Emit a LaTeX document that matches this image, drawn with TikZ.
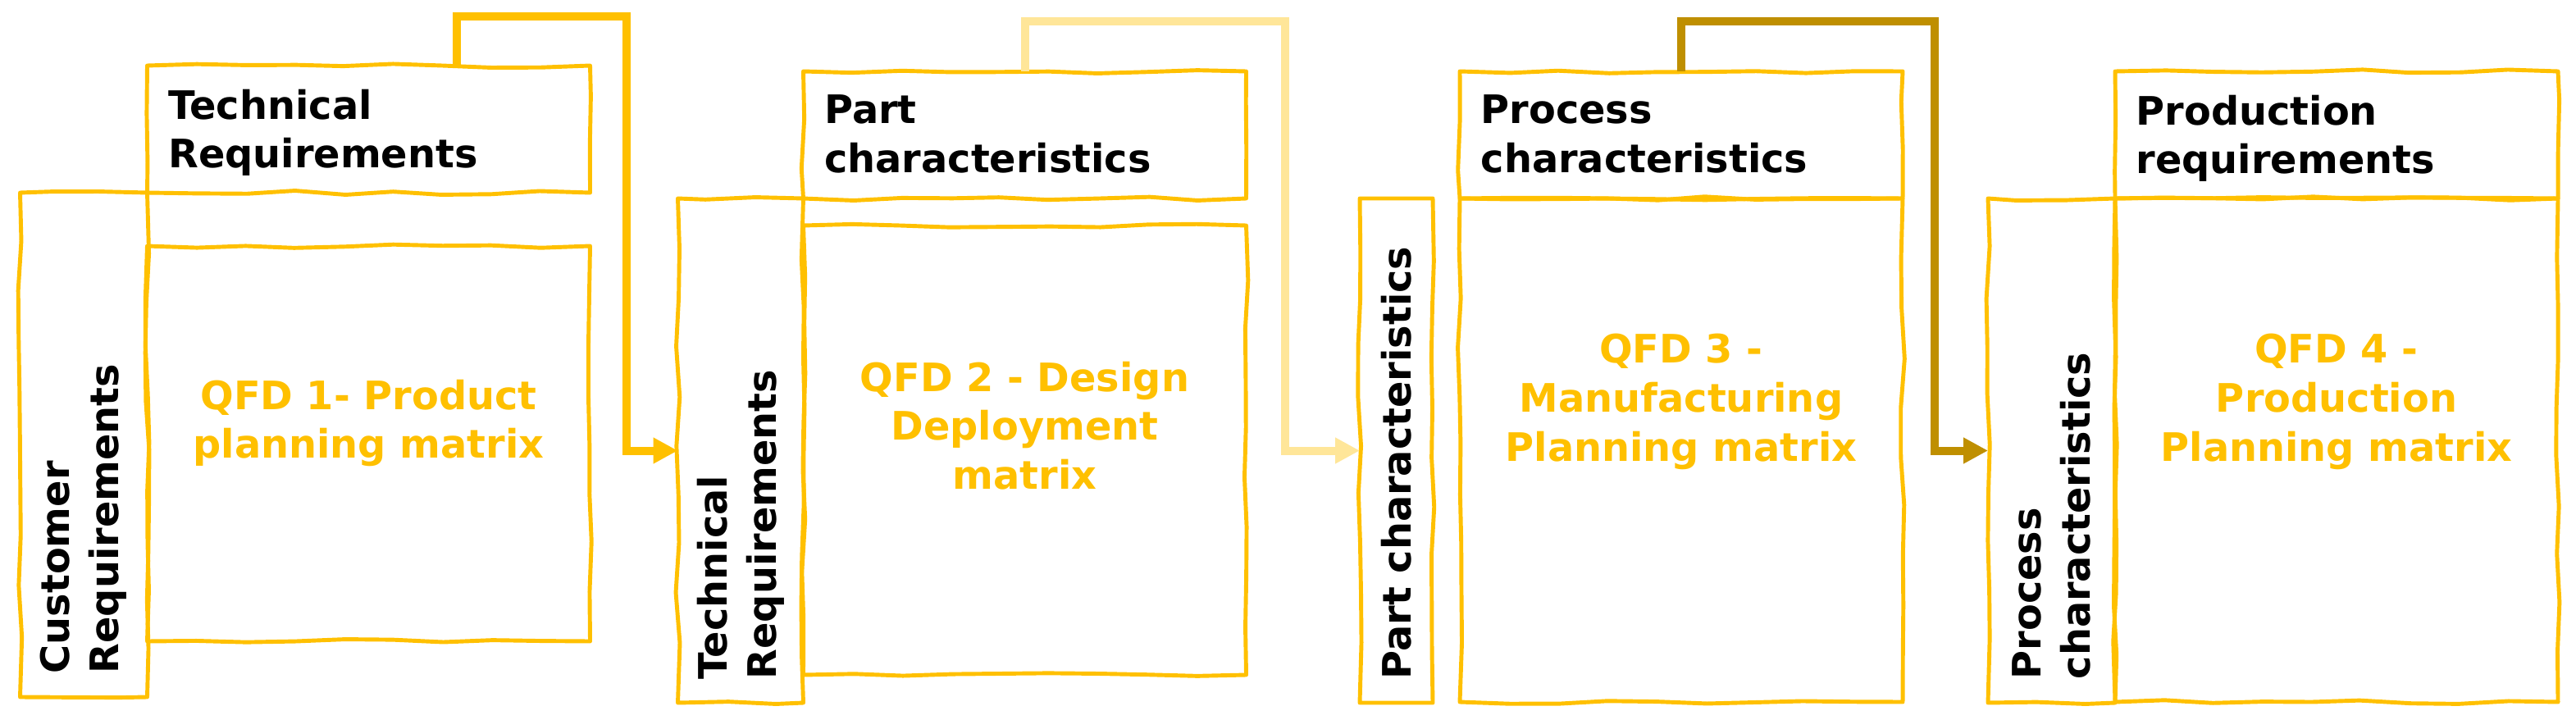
\documentclass[tikz,border=0pt]{standalone}
\usepackage{fontspec}
\setsansfont{DejaVu Sans}
\usepackage{tikz}
\usetikzlibrary{
    arrows.meta,
    positioning,
    decorations.pathmorphing
}
\definecolor{qfdgold}{HTML}{FFC000}
\definecolor{qfdlight}{HTML}{FFE699}
\definecolor{qfddark}{HTML}{BF8F00}
\tikzset{
    sketch box/.style={
        rectangle, draw=qfdgold, line width=1.4pt,
        inner sep=0pt, outer sep=0pt, line join=round,
        decorate, decoration={random steps, segment length=0.6cm, amplitude=0.025cm}
    },
    head box/.style={
        sketch box, minimum width=5.4cm, minimum height=1.55cm
    },
    side box/.style={
        sketch box, minimum height=6.15cm
    },
    qfd box/.style={
        sketch box, minimum width=5.4cm
    },
    head text/.style={
        anchor=north west, inner sep=0pt, align=left,
        font=\fontsize{13.6}{17}\selectfont\sffamily\bfseries
    },
    side text/.style={
        head text, anchor=west, rotate=90
    },
    qfd text/.style={
        align=center, inner sep=0pt, text=qfdgold,
        font=\fontsize{13.6}{17}\selectfont\sffamily\bfseries
    },
    link/.style={
        -{Triangle[length=0.3cm, width=0.3cm]}, line width=0.1cm, color=#1
    },
    link/.default={qfdgold},
}
\pgfmathsetseed{7}

\begin{document}
\begin{tikzpicture}
    \useasboundingbox (0,0) rectangle (31.41,8.77);

    % QFD 1
    \node[qfd box, minimum height=4.82cm] (qfd1) at (4.495,3.36) {};
    \node[head box, above=0.65cm of qfd1] (techhead) {};
    \node[side box, minimum width=1.55cm, anchor=north east] (custside) at (techhead.south west) {};
    \node[head text] (techlabel) at ([shift={(0.25,-0.28)}]techhead.north west) {Technical\\Requirements};
    \node[side text] (custlabel) at ([yshift=0.28cm]custside.south) {Customer\\Requirements};
    \node[qfd text] (qfd1label) at ([yshift=0.25cm]qfd1.center) {QFD 1- Product\\planning matrix};

    % QFD 2
    \node[qfd box, minimum height=5.48cm] (qfd2) at (12.495,3.28) {};
    \node[head box, above=0.33cm of qfd2] (parthead) {};
    \node[side box, minimum width=1.53cm, anchor=north east] (techside) at (parthead.south west) {};
    \node[head text] (partlabel) at ([shift={(0.25,-0.28)}]parthead.north west) {Part\\characteristics};
    \node[side text] (techsidelabel) at ([yshift=0.28cm]techside.south) {Technical\\Requirements};
    \node[qfd text] (qfd2label) at ([yshift=0.3cm]qfd2.center) {QFD 2 - Design\\Deployment\\matrix};

    % QFD 3
    \node[qfd box, minimum height=6.14cm] (qfd3) at (20.50,3.28) {};
    \node[head box, above=0pt of qfd3] (prochead) {};
    \node[side box, minimum width=0.89cm, anchor=north east] (partside) at ([xshift=-0.33cm]prochead.south west) {};
    \node[head text] (proclabel) at ([shift={(0.25,-0.28)}]prochead.north west) {Process\\characteristics};
    \node[side text] (partsidelabel) at ([yshift=0.28cm]partside.south) {Part characteristics};
    \node[qfd text] (qfd3label) at ([yshift=0.59cm]qfd3.center) {QFD 3 -\\Manufacturing\\Planning matrix};

    % QFD 4
    \node[qfd box, minimum height=6.14cm] (qfd4) at (28.49,3.28) {};
    \node[head box, above=0pt of qfd4] (prodhead) {};
    \node[side box, minimum width=1.55cm, anchor=north east] (procside) at (prodhead.south west) {};
    \node[head text] (prodlabel) at ([shift={(0.25,-0.28)}]prodhead.north west) {Production\\requirements};
    \node[side text] (procsidelabel) at ([yshift=0.28cm]procside.south) {Process\\characteristics};
    \node[qfd text] (qfd4label) at ([yshift=0.59cm]qfd4.center) {QFD 4 -\\Production\\Planning matrix};

    % Links between the matrices
    \draw[link] ([xshift=1.07cm]techhead.north) -- ++(0,0.6) -- ++(2.07,0) |- (techside.west);
    \draw[link=qfdlight] (parthead.north) -- ++(0,0.61) -- ++(3.17,0) |- (partside.west);
    \draw[link=qfddark] (prochead.north) -- ++(0,0.61) -- ++(3.09,0) |- (procside.west);
\end{tikzpicture}
\end{document}
